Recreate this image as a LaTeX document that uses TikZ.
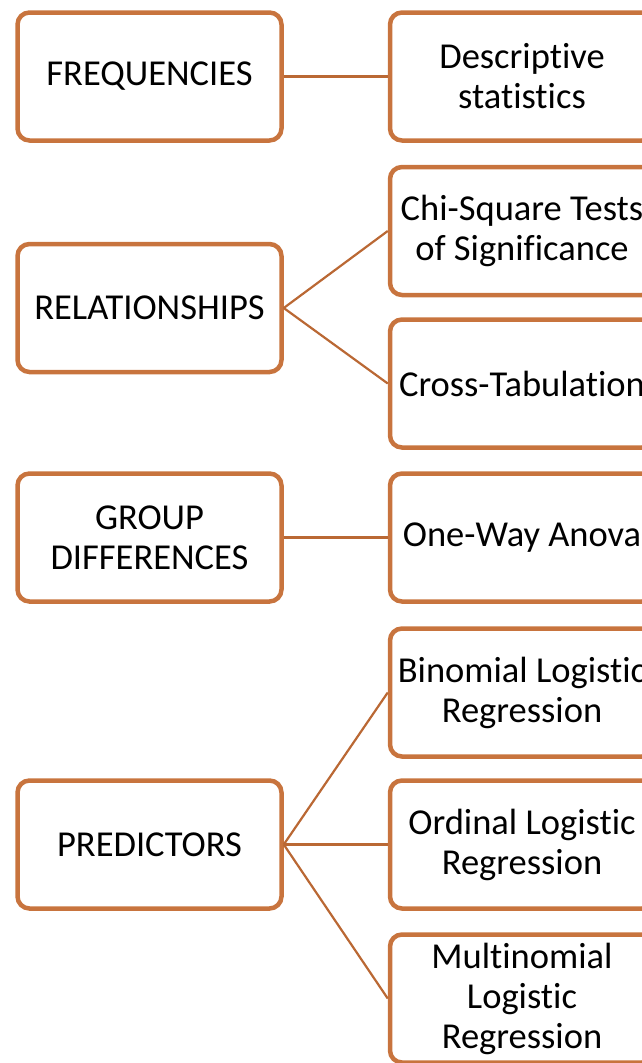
\documentclass[tikz,border=0pt]{standalone}
\usepackage{fontspec}
\setmainfont[Ligatures=NoCommon]{Carlito}
\usepackage{tikz}
\usetikzlibrary{positioning}
\definecolor{boxorange}{RGB}{200,116,62}
\definecolor{lineorange}{RGB}{186,104,52}

\begin{document}
\begin{tikzpicture}[x=1pt,y=-1pt,
    catbox/.style={draw=boxorange,line width=4.5pt,rounded corners=12pt,
        minimum width=264pt,minimum height=128pt,inner sep=0pt,
        align=center,font=\fontsize{36.5}{40}\selectfont},
    link/.style={draw=lineorange,line width=2.2pt}]
    \useasboundingbox (0,0) rectangle (642,1063);
    \clip (0,0) rectangle (642,1063);
    % left column
    \node [catbox] (freq) at (149.5,76.5) {FREQUENCIES};
    \node [catbox] (rel) at (149.5,308) {RELATIONSHIPS};
    \node [catbox] (group) at (149.5,537.5) {GROUP\\DIFFERENCES};
    \node [catbox] (pred) at (149.5,844.5) {PREDICTORS};
    % right column
    \node [catbox] (desc) at (522,76.5) {Descriptive\\statistics};
    \node [catbox] (chi) at (522,231) {Chi-Square Tests\\of Significance};
    \node [catbox] (cross) at (522,383.5) {Cross-Tabulation};
    \node [catbox] (anova) at (522,537.5) {One-Way Anova};
    \node [catbox] (binom) at (522,692.5) {Binomial Logistic\\Regression};
    \node [catbox] (ordin) at (522,844.5) {Ordinal Logistic\\Regression};
    \node [catbox] (multi) at (522,998.5) {Multinomial\\Logistic\\Regression};
    % connectors
    \draw [link] (freq.east) -- (desc.west);
    \draw [link] (rel.east) -- (chi.west);
    \draw [link] (rel.east) -- (cross.west);
    \draw [link] (group.east) -- (anova.west);
    \draw [link] (pred.east) -- (binom.west);
    \draw [link] (pred.east) -- (ordin.west);
    \draw [link] (pred.east) -- (multi.west);
\end{tikzpicture}
\end{document}
